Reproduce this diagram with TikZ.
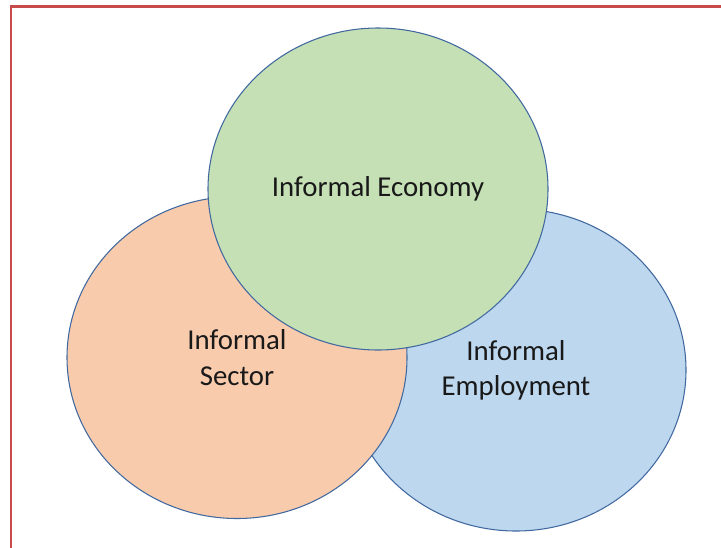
\documentclass[tikz,border=0pt]{standalone}
\usepackage{fontspec}
\setmainfont{Carlito}
\usetikzlibrary{shapes.geometric}

\definecolor{framered}{RGB}{200,75,75}
\definecolor{setline}{RGB}{65,105,160}
\definecolor{econfill}{RGB}{197,224,180}
\definecolor{sectfill}{RGB}{248,203,173}
\definecolor{emplfill}{RGB}{189,215,238}

\tikzset{
	setshape/.style={ellipse,draw=setline,line width=0.8pt,minimum width=255pt,minimum height=241.5pt,
		inner sep=0pt,align=center,text=black!90,font=\fontsize{21.6}{26.4}\selectfont}
}

\begin{document}
\begin{tikzpicture}[x=0.75pt,y=-0.75pt]
			\useasboundingbox (0,0) rectangle (721,547);
			\clip (0,0) rectangle (721,547);
			
			\draw[framered,line width=1.6pt] (11,560) |- (740,6.5);
			
			\node[setshape,fill=emplfill] (employment) at (516,370) {Informal\\Employment};
			
			\node[setshape,fill=sectfill] (sector) at (237,357.5) {Informal\\Sector};
			
			\node[setshape,fill=econfill] (economy) at (378,189) {Informal Economy};
	
		\end{tikzpicture}
\end{document}
